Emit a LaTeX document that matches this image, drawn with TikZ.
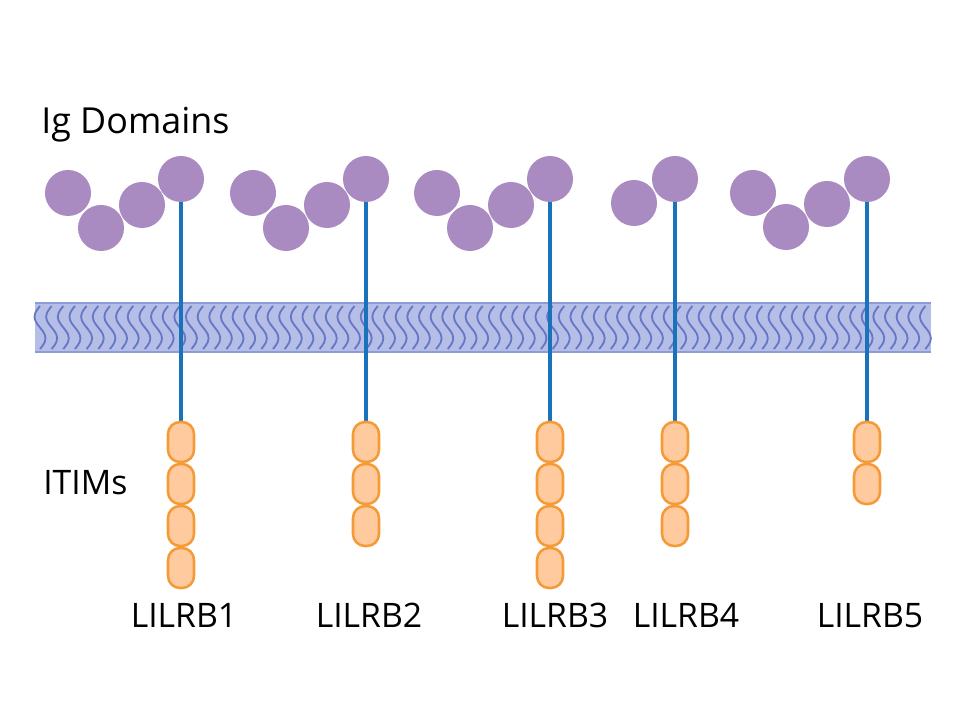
\documentclass[tikz,border=0pt]{standalone}
\usepackage{fontspec}
\setmainfont{Open Sans}
\definecolor{igpurple}{HTML}{A98BC2}
\definecolor{stemblue}{HTML}{1A73BA}
\definecolor{itimfill}{HTML}{FFCA9E}
\definecolor{itimline}{HTML}{F49A36}
\definecolor{memfill}{HTML}{B4BEE6}
\definecolor{memline}{HTML}{8D9BD6}
\definecolor{memwave}{HTML}{6677C6}
\pgfdeclarelayer{background}
\pgfsetlayers{background,main}
\begin{document}
\begin{tikzpicture}[x=0.025cm,y=-0.025cm]
\tikzstyle{igdom}=[circle,fill=igpurple,minimum size=1.15cm,inner sep=0pt]
\tikzstyle{itim}=[rectangle,rounded corners=0.3cm,draw=itimline,fill=itimfill,line width=1.8pt,minimum width=0.65cm,minimum height=1.0cm,inner sep=0pt]
\tikzstyle{stem}=[draw=stemblue,line width=2.4pt]
\tikzstyle{lbl}=[font=\fontsize{24}{28}\selectfont,inner sep=0pt]
\useasboundingbox (0,0) rectangle (960,720);
% Ig domains
\node[igdom](a1) at (68,193) {};
\node[igdom](a2) at (101,228) {};
\node[igdom](a3) at (142,205) {};
\node[igdom](a4) at (181,179) {};
\node[igdom](b1) at (253,193) {};
\node[igdom](b2) at (286,228) {};
\node[igdom](b3) at (327,205) {};
\node[igdom](b4) at (366,179) {};
\node[igdom](c1) at (437,193) {};
\node[igdom](c2) at (470,228) {};
\node[igdom](c3) at (511,205) {};
\node[igdom](c4) at (550,179) {};
\node[igdom](d1) at (634,203) {};
\node[igdom](d2) at (675,179) {};
\node[igdom](e1) at (753,193) {};
\node[igdom](e2) at (786,227) {};
\node[igdom](e3) at (827,204) {};
\node[igdom](e4) at (867,179) {};
% ITIMs
\node[itim](ia1) at (181,442) {};
\node[itim](ia2) at (181,484) {};
\node[itim](ia3) at (181,526) {};
\node[itim](ia4) at (181,568) {};
\node[itim](ib1) at (366,442) {};
\node[itim](ib2) at (366,484) {};
\node[itim](ib3) at (366,526) {};
\node[itim](ic1) at (550,442) {};
\node[itim](ic2) at (550,484) {};
\node[itim](ic3) at (550,526) {};
\node[itim](ic4) at (550,568) {};
\node[itim](id1) at (675,442) {};
\node[itim](id2) at (675,484) {};
\node[itim](id3) at (675,526) {};
\node[itim](ie1) at (867,442) {};
\node[itim](ie2) at (867,484) {};
% labels
\node[lbl,anchor=base west,font=\fontsize{25.5}{30}\selectfont](igdoms) at (41,134) {Ig Domains};
\node[lbl,anchor=base west](itims) at (43,495) {ITIMs};
\node[lbl,anchor=base](la) at (184,627) {LILRB1};
\node[lbl,anchor=base](lb) at (369,627) {LILRB2};
\node[lbl,anchor=base](lc) at (555,627) {LILRB3};
\node[lbl,anchor=base](ld) at (686,627) {LILRB4};
\node[lbl,anchor=base](le) at (870,627) {LILRB5};
\begin{pgfonlayer}{background}
% membrane
\fill[memfill] (35,303) rectangle (931,352);
\draw[memline,line width=1.1pt] (35,303) -- (931,303) (35,352) -- (931,352);
\foreach \k in {0,...,76}
  \draw[memwave,line width=1.3pt] plot[variable=\t,domain=0:1,samples=13,smooth] ({40+11.65*\k-5.5*sin(360*\t)},{306+43*\t});
% stems
\draw[stem] (a4.center) -- (ia1.north);
\draw[stem] (b4.center) -- (ib1.north);
\draw[stem] (c4.center) -- (ic1.north);
\draw[stem] (d2.center) -- (id1.north);
\draw[stem] (e4.center) -- (ie1.north);
\end{pgfonlayer}
\end{tikzpicture}
\end{document}
